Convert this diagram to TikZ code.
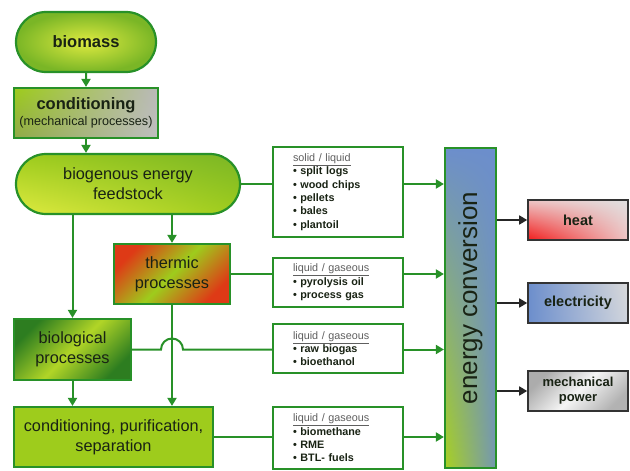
\documentclass[tikz,border=0pt]{standalone}
\usepackage{fontspec}
\setmainfont{Liberation Sans}
\usetikzlibrary{shapes.misc, arrows.meta, shadings}

\definecolor{flowgreen}{RGB}{40,145,40}
\definecolor{limegreen}{RGB}{158,204,28}
\definecolor{paleyellow}{RGB}{222,234,64}
\definecolor{leafgreen}{RGB}{122,182,38}
\definecolor{darkleaf}{RGB}{45,125,32}
\definecolor{thermred}{RGB}{222,58,22}
\definecolor{convblue}{RGB}{108,142,204}
\definecolor{heatred}{RGB}{242,28,28}
\definecolor{labelgray}{RGB}{95,95,95}
\definecolor{inkdark}{RGB}{25,35,20}

\tikzset{
  flowline/.style={draw=flowgreen, line width=2pt},
  flowarrow/.style={flowline, -{Triangle[length=8pt,width=9pt]}},
  outarrow/.style={draw=black!85, line width=1.6pt, -{Triangle[length=8pt,width=9pt]}},
  greenbox/.style={draw=flowgreen, line width=2.2pt, text=inkdark, align=center,
    inner sep=2pt, font=\fontsize{16.3}{20}\selectfont},
  pill/.style={greenbox, rounded rectangle},
  listbox/.style={draw=flowgreen, line width=2.2pt, fill=white, text=inkdark,
    align=left, text width=90pt, inner xsep=20pt, minimum width=130pt,
    font=\fontsize{10.8}{13.3}\selectfont\bfseries},
  outbox/.style={draw=black!80, line width=1.6pt, minimum width=100pt,
    minimum height=40pt, text=inkdark, align=center, inner sep=1pt,
    font=\fontsize{14.5}{15}\selectfont\bfseries}
}
\newcommand{\listhead}[1]{{\mdseries\color{labelgray}\underline{#1}}}

\begin{document}
\begin{tikzpicture}[x=1pt, y=-1pt]
\useasboundingbox (0,0) rectangle (630,471);

% left column: processing chain
\node[pill, minimum width=144pt, minimum height=60pt, inner color=paleyellow,
  outer color=leafgreen, font=\fontsize{16.5}{18}\selectfont\bfseries]
  (biomass) at (86,42) {biomass};
\node[greenbox, minimum width=144pt, minimum height=50pt,
  upper left=limegreen, upper right=gray!55, lower left=gray!45!limegreen,
  lower right=gray!50, font=\fontsize{16.5}{17}\selectfont\bfseries]
  (condmech) at (86,113) {conditioning\\[-1pt]{\fontsize{12.6}{14}\selectfont\mdseries(mechanical processes)}};
\node[pill, minimum width=228pt, minimum height=60pt,
  upper left=limegreen, upper right=leafgreen, lower left=paleyellow,
  lower right=limegreen] (feedstock) at (128,184) {biogenous energy\\feedstock};
\node[greenbox, minimum width=116pt, minimum height=60pt, shading=axis,
  top color=thermred, bottom color=thermred, middle color=limegreen,
  shading angle=45] (thermic) at (172,274) {thermic\\processes};
\node[greenbox, minimum width=117pt, minimum height=61pt, shading=axis,
  top color=darkleaf, bottom color=darkleaf, middle color=limegreen!70!paleyellow,
  shading angle=45] (biological) at (72.5,349.5) {biological\\processes};
\node[greenbox, minimum width=199pt, minimum height=60pt, fill=limegreen]
  (purification) at (113.5,437) {conditioning, purification,\\separation};

% products
\node[listbox, minimum height=90pt] (solidliquid) at (338,192)
  {\listhead{solid / liquid}\\ • split logs\\ • wood chips\\ • pellets\\ • bales\\ • plantoil};
\node[listbox, minimum height=49pt] (thermfuel) at (338,282.5)
  {\listhead{liquid / gaseous}\\ • pyrolysis oil\\ • process gas};
\node[listbox, minimum height=49pt] (biofuel) at (338,348.5)
  {\listhead{liquid / gaseous}\\ • raw biogas\\ • bioethanol};
\node[listbox, minimum height=62pt] (refinedfuel) at (338,438)
  {\listhead{liquid / gaseous}\\ • biomethane\\ • RME\\ • BTL- fuels};

% conversion and outputs
\node[draw=flowgreen, line width=2.2pt, minimum width=51pt, minimum height=320pt,
  lower left=limegreen!85!paleyellow, lower right=convblue!85!limegreen,
  upper left=convblue, upper right=convblue] (energy) at (470.5,308) {};
\node[rotate=90, text=inkdark, font=\fontsize{26}{28}\selectfont]
  (energylabel) at ([yshift=10pt]energy.center) {energy conversion};
\node[outbox, lower left=heatred, upper left=heatred!60!gray!30,
  lower right=heatred!65!gray!30, upper right=gray!25] (heat) at (578,220) {heat};
\node[outbox, lower left=convblue, upper left=convblue,
  lower right=convblue!40!gray!35, upper right=gray!30] (electricity) at (578,303) {electricity};
\node[outbox, shading=axis, top color=gray!65, bottom color=gray!60,
  middle color=gray!8, shading angle=45, font=\fontsize{13}{15}\selectfont\bfseries]
  (mechpower) at (578,391) {mechanical\\power};

% connectors
\draw[flowarrow] (biomass) -- (condmech);
\draw[flowarrow] (condmech.south) -- (condmech.south |- feedstock.north);
\draw[flowarrow] (thermic.north |- feedstock.south) -- (thermic.north);
\draw[flowarrow] (biological.north |- feedstock.south) -- (biological.north);
\draw[flowarrow] (thermic.south) -- (thermic.south |- purification.north);
\draw[flowarrow] (biological.south) -- (biological.south |- purification.north);

\draw[flowline] (feedstock.east) -- (feedstock.east -| solidliquid.west);
\draw[flowline] (thermic.east) -- (thermic.east -| thermfuel.west);
\draw[flowline] (biological.east) -- ([xshift=-11pt]thermic.south |- biological.east)
  arc[start angle=180, end angle=0, radius=11pt] -- (biological.east -| biofuel.west);
\draw[flowline] (purification.east) -- (purification.east -| refinedfuel.west);

\draw[flowarrow] (feedstock.east -| solidliquid.east) -- (feedstock.east -| energy.west);
\draw[flowarrow] (thermic.east -| thermfuel.east) -- (thermic.east -| energy.west);
\draw[flowarrow] (biological.east -| biofuel.east) -- (biological.east -| energy.west);
\draw[flowarrow] (purification.east -| refinedfuel.east) -- (purification.east -| energy.west);

\foreach \target in {heat, electricity, mechpower}
  \draw[outarrow] (energy.east |- \target.west) -- (\target.west);
\end{tikzpicture}
\end{document}
